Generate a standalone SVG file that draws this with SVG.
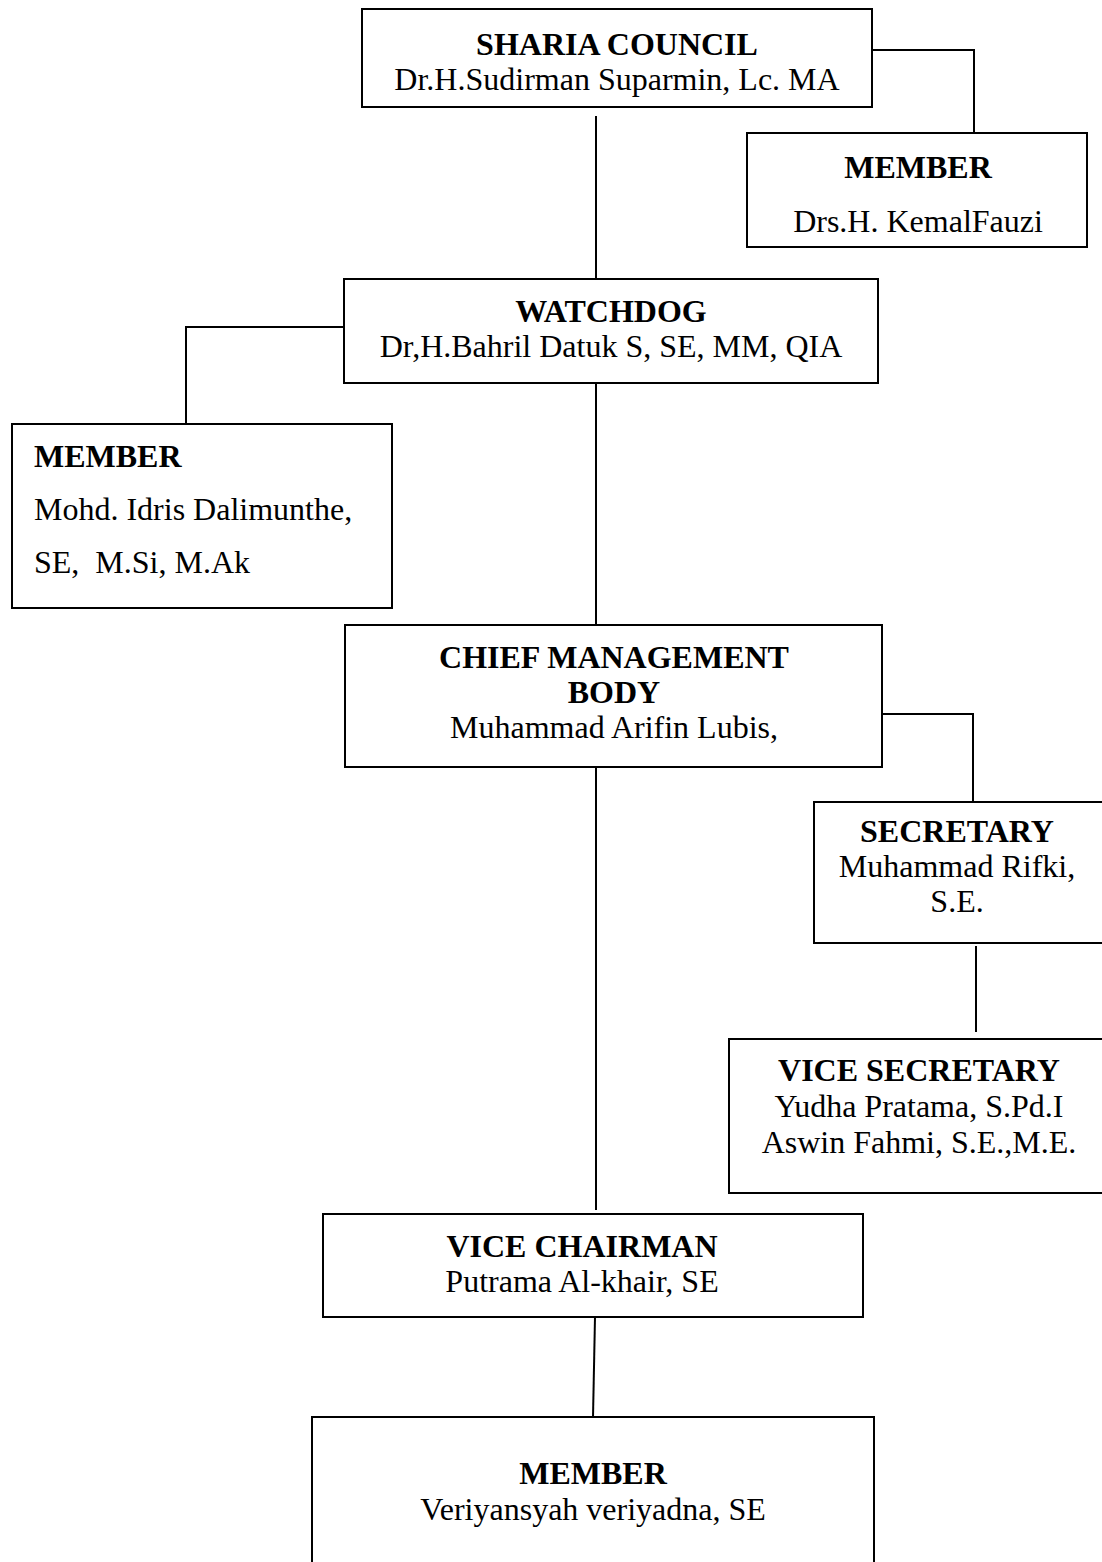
<svg xmlns="http://www.w3.org/2000/svg" width="1102" height="1562" viewBox="0 0 1102 1562">
<style>
.box{fill:#fff;stroke:#000;stroke-width:2}
.ln{fill:none;stroke:#000;stroke-width:2}
text{font-family:"Liberation Serif","Times New Roman",serif;font-size:32px;fill:#000}
.t{font-weight:bold}
.c{text-anchor:middle}
</style>
<rect x="0" y="0" width="1102" height="1562" fill="#fff"/>
<g id="connectors">
<polyline class="ln" points="872,50 974,50 974,133"/>
<line class="ln" x1="596" y1="116" x2="596" y2="279"/>
<polyline class="ln" points="344,327 186,327 186,424"/>
<line class="ln" x1="596" y1="383" x2="596" y2="624"/>
<polyline class="ln" points="882,714 973,714 973,802"/>
<line class="ln" x1="596" y1="767" x2="596" y2="1210"/>
<line class="ln" x1="976" y1="946" x2="976" y2="1032"/>
<line class="ln" x1="595" y1="1317" x2="593" y2="1417"/>
</g>
<g id="sharia">
<rect class="box" x="362" y="9" width="510" height="98"/>
<text class="t c" x="617" y="55">SHARIA COUNCIL</text>
<text class="c" x="617" y="90">Dr.H.Sudirman Suparmin, Lc. MA</text>
</g>
<g id="member-sharia">
<rect class="box" x="747" y="133" width="340" height="114"/>
<text class="t c" x="918" y="178">MEMBER</text>
<text class="c" x="918" y="232">Drs.H. KemalFauzi</text>
</g>
<g id="watchdog">
<rect class="box" x="344" y="279" width="534" height="104"/>
<text class="t c" x="611" y="322">WATCHDOG</text>
<text class="c" x="611" y="357">Dr,H.Bahril Datuk S, SE, MM, QIA</text>
</g>
<g id="member-watchdog">
<rect class="box" x="12" y="424" width="380" height="184"/>
<text class="t" x="34" y="467">MEMBER</text>
<text x="34" y="520">Mohd. Idris Dalimunthe,</text>
<text x="34" y="573" xml:space="preserve">SE,  M.Si, M.Ak</text>
</g>
<g id="chief">
<rect class="box" x="345" y="625" width="537" height="142"/>
<text class="t c" x="614" y="668">CHIEF MANAGEMENT</text>
<text class="t c" x="614" y="703">BODY</text>
<text class="c" x="614" y="738">Muhammad Arifin Lubis,</text>
</g>
<g id="secretary">
<rect class="box" x="814" y="802" width="292" height="141"/>
<text class="t c" x="957" y="842">SECRETARY</text>
<text class="c" x="957" y="877">Muhammad Rifki,</text>
<text class="c" x="957" y="912">S.E.</text>
</g>
<g id="vice-secretary">
<rect class="box" x="729" y="1039" width="380" height="154"/>
<text class="t c" x="919" y="1081">VICE SECRETARY</text>
<text class="c" x="919" y="1117">Yudha Pratama, S.Pd.I</text>
<text class="c" x="919" y="1153">Aswin Fahmi, S.E.,M.E.</text>
</g>
<g id="vice-chairman">
<rect class="box" x="323" y="1214" width="540" height="103"/>
<text class="t c" x="582" y="1257">VICE CHAIRMAN</text>
<text class="c" x="582" y="1292">Putrama Al-khair, SE</text>
</g>
<g id="member-vice-chairman">
<rect class="box" x="312" y="1417" width="562" height="160"/>
<text class="t c" x="593" y="1484">MEMBER</text>
<text class="c" x="593" y="1520">Veriyansyah veriyadna, SE</text>
</g>
</svg>
